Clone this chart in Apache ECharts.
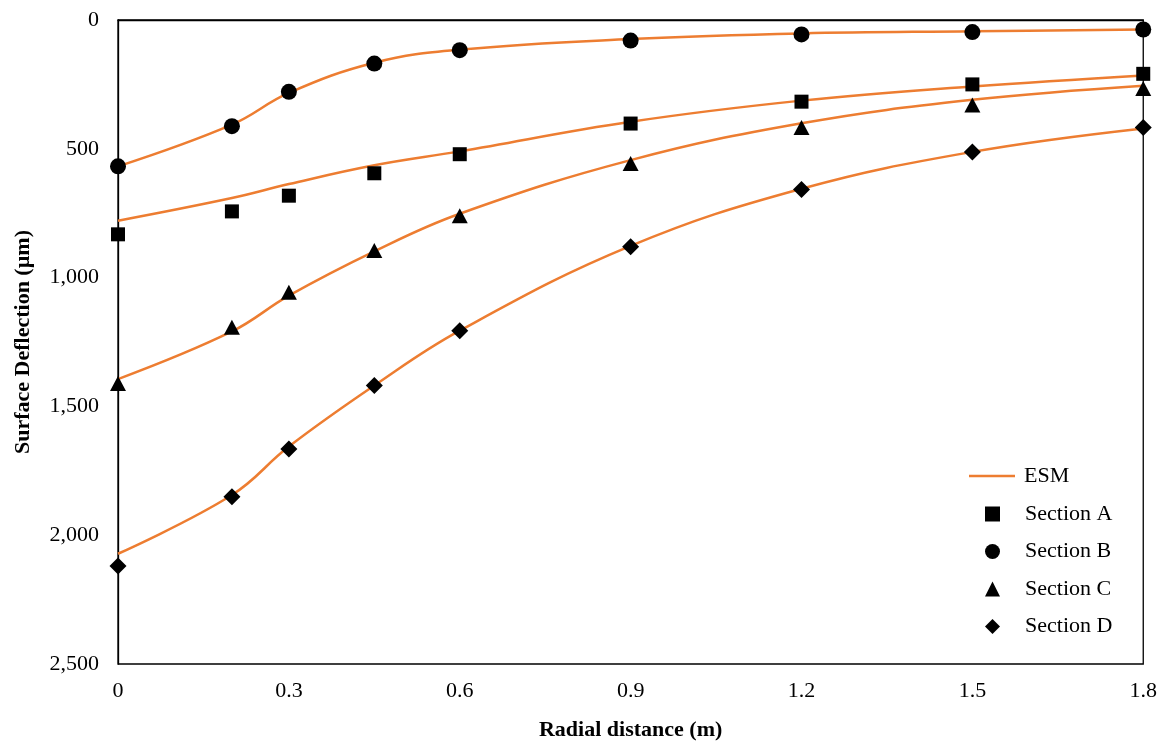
<!DOCTYPE html>
<html>
<head>
<meta charset="utf-8">
<script src="https://cdn.jsdelivr.net/npm/echarts@6/dist/echarts.min.js"></script>
<style>
html, body { margin: 0; padding: 0; background: #fff; }
#chart { width: 1160px; height: 747px; }
</style>
</head>
<body>
<div id="chart"></div>
<script>
// radial distance of the sensors (m)
var distances = [0, 0.2, 0.3, 0.45, 0.6, 0.9, 1.2, 1.5, 1.8];
// measured deflection (um)
var sectionA = [832, 743, 682, 595, 521, 402, 317, 250, 209];
var sectionB = [568, 412, 279, 169, 117, 80, 56, 47, 37];
var sectionC = [1411, 1193, 1057, 895, 760, 557, 417, 330, 266];
var sectionD = [2120, 1851, 1665, 1419, 1206, 880, 658, 512, 417];
// ESM back-calculated curves
var esmA = [779, 691, 637, 564, 510, 395, 313, 258, 215];
var esmB = [568, 406, 283, 166, 115, 74, 52, 44, 37];
var esmC = [1394, 1209, 1070, 898, 752, 544, 401, 310, 255];
var esmD = [2072, 1844, 1656, 1419, 1206, 877, 655, 512, 421];
var xTicks = [0, 0.3, 0.6, 0.9, 1.2, 1.5, 1.8];
var yTicks = [0, 500, 1000, 1500, 2000, 2500];

var FONT = 'Liberation Serif';
var ORANGE = '#ED7D31';

function pairs(xs, ys) {
    var out = [];
    for (var i = 0; i < xs.length; i++) {
        out.push([xs[i], ys[i]]);
    }
    return out;
}

function esmLine(vals) {
    return {
        name: 'ESM',
        type: 'line',
        smooth: 0.4,
        symbol: 'none',
        lineStyle: { color: ORANGE, width: 2.5 },
        itemStyle: { color: ORANGE },
        z: 2,
        data: pairs(distances, vals)
    };
}

function marks(name, symbol, size, vals) {
    return {
        name: name,
        type: 'scatter',
        symbol: symbol,
        symbolSize: size,
        itemStyle: { color: '#000', opacity: 1 },
        z: 5,
        data: pairs(distances, vals)
    };
}

var legendText = { fontFamily: FONT, fontSize: 22, color: '#000', lineHeight: 22 };

var myChart = echarts.init(document.getElementById('chart'));
var option = {
    animation: false,
    backgroundColor: '#fff',
    grid: {
        left: 118, right: 16, top: 20, bottom: 83,
        show: true, borderColor: '#000', borderWidth: 1.3
    },
    legend: [{
        // line entry
        orient: 'vertical',
        left: 964, top: 460,
        itemWidth: 46, itemHeight: 2.5,
        textStyle: Object.assign({ padding: [0, 0, 0, 4] }, legendText),
        data: [{ name: 'ESM', icon: 'rect', itemStyle: { color: ORANGE } }]
    }, {
        // marker entries
        orient: 'vertical',
        left: 980, top: 498,
        itemWidth: 15, itemHeight: 15, itemGap: 15.5,
        textStyle: Object.assign({ padding: [0, 0, 0, 20] }, legendText),
        data: [
            { name: 'Section A', icon: 'rect' },
            { name: 'Section B', icon: 'circle' },
            { name: 'Section C', icon: 'triangle' },
            { name: 'Section D', icon: 'diamond' }
        ]
    }],
    xAxis: {
        type: 'value',
        min: xTicks[0], max: xTicks[xTicks.length - 1], interval: 0.3,
        name: 'Radial distance (m)',
        nameLocation: 'middle', nameGap: 55,
        nameTextStyle: { fontFamily: FONT, fontSize: 22, fontWeight: 'bold', color: '#000' },
        axisLine: { lineStyle: { color: '#000', width: 1.3 } },
        axisTick: { show: false },
        splitLine: { show: false },
        axisLabel: { fontFamily: FONT, fontSize: 22, color: '#000', margin: 16 }
    },
    yAxis: {
        type: 'value',
        inverse: true,
        min: yTicks[0], max: yTicks[yTicks.length - 1], interval: 500,
        name: 'Surface Deflection (\u00b5m)',
        nameLocation: 'middle', nameGap: 84,
        nameTextStyle: { fontFamily: FONT, fontSize: 22, fontWeight: 'bold', color: '#000' },
        axisLine: { show: true, lineStyle: { color: '#000', width: 1.3 } },
        axisTick: { show: false },
        splitLine: { show: false },
        axisLabel: {
            fontFamily: FONT, fontSize: 22, color: '#000', margin: 19,
            formatter: function (v) { return v.toLocaleString('en-US'); }
        }
    },
    series: [
        esmLine(esmA),
        esmLine(esmB),
        esmLine(esmC),
        esmLine(esmD),
        marks('Section A', 'rect', 14, sectionA),
        marks('Section B', 'circle', 16, sectionB),
        marks('Section C', 'triangle', [16, 15], sectionC),
        marks('Section D', 'diamond', [17, 17], sectionD)
    ]
};
myChart.setOption(option);
</script>
</body>
</html>
